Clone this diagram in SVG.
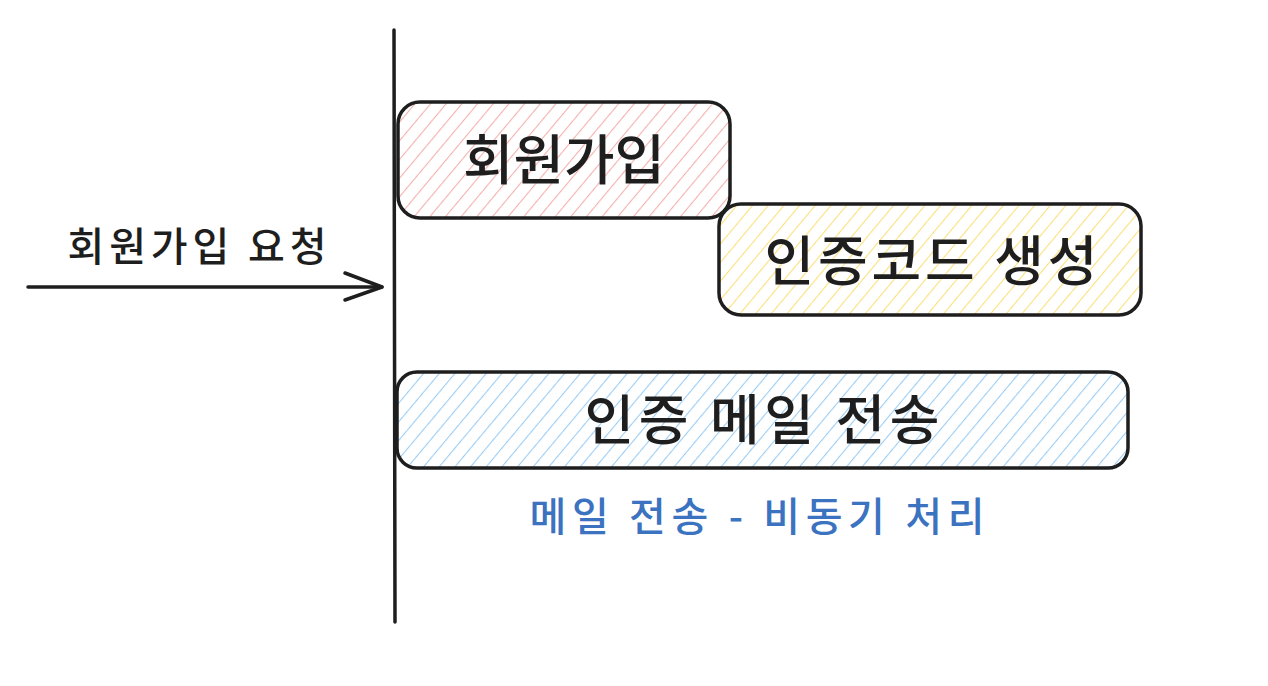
<svg xmlns="http://www.w3.org/2000/svg" width="1268" height="686" viewBox="0 0 1268 686">
<defs>
<style>
.box{stroke:#1e1e1e;stroke-width:3.5;stroke-linejoin:round}
.lbl{font-family:"Noto Sans CJK KR","Noto Sans",sans-serif;font-weight:500;fill:#1e1e1e;text-anchor:middle;dominant-baseline:central}
.line{stroke:#1e1e1e;stroke-width:3.5;fill:none;stroke-linecap:round;stroke-linejoin:round}
</style>
<pattern id="hRed" patternUnits="userSpaceOnUse" width="12" height="12" patternTransform="rotate(40)">
<line x1="0" y1="0" x2="0" y2="12" stroke="#f5b0b0" stroke-width="2.2"/>
</pattern>
<pattern id="hYel" patternUnits="userSpaceOnUse" width="12" height="12" patternTransform="rotate(40)">
<line x1="0" y1="0" x2="0" y2="12" stroke="#fbe07e" stroke-width="2.2"/>
</pattern>
<pattern id="hBlu" patternUnits="userSpaceOnUse" width="12" height="12" patternTransform="rotate(40)">
<line x1="0" y1="0" x2="0" y2="12" stroke="#9ccdf5" stroke-width="2.2"/>
</pattern>
</defs>
<rect width="1268" height="686" fill="#ffffff"/>
<g id="connectors">
<line class="line" x1="394" y1="30" x2="395" y2="622" stroke-width="4"/>
<path class="line" d="M28 287 L382 287"/>
<path class="line" d="M345 273 L382 287 L345 300"/>
</g>
<g id="request-label">
<text class="lbl" x="197" y="244" font-size="40" textLength="259" lengthAdjust="spacing">회원가입 요청</text>
</g>
<g id="node-signup">
<rect class="box" x="398" y="102" width="332" height="116" rx="22" fill="url(#hRed)"/>
<text class="lbl" x="564" y="156" font-size="54" textLength="202" lengthAdjust="spacingAndGlyphs">회원가입</text>
</g>
<g id="node-code">
<rect class="box" x="719" y="204" width="422" height="111" rx="22" fill="url(#hYel)"/>
<text class="lbl" x="931" y="257" font-size="54" textLength="333" lengthAdjust="spacing">인증코드 생성</text>
</g>
<g id="node-mail">
<rect class="box" x="397" y="372" width="731" height="96" rx="20" fill="url(#hBlu)"/>
<text class="lbl" x="762" y="416" font-size="54" textLength="355" lengthAdjust="spacing">인증 메일 전송</text>
</g>
<g id="note">
<text class="lbl" x="757" y="514" font-size="40" style="fill:#3b73c0" textLength="455" lengthAdjust="spacing">메일 전송 - 비동기 처리</text>
</g>
</svg>
